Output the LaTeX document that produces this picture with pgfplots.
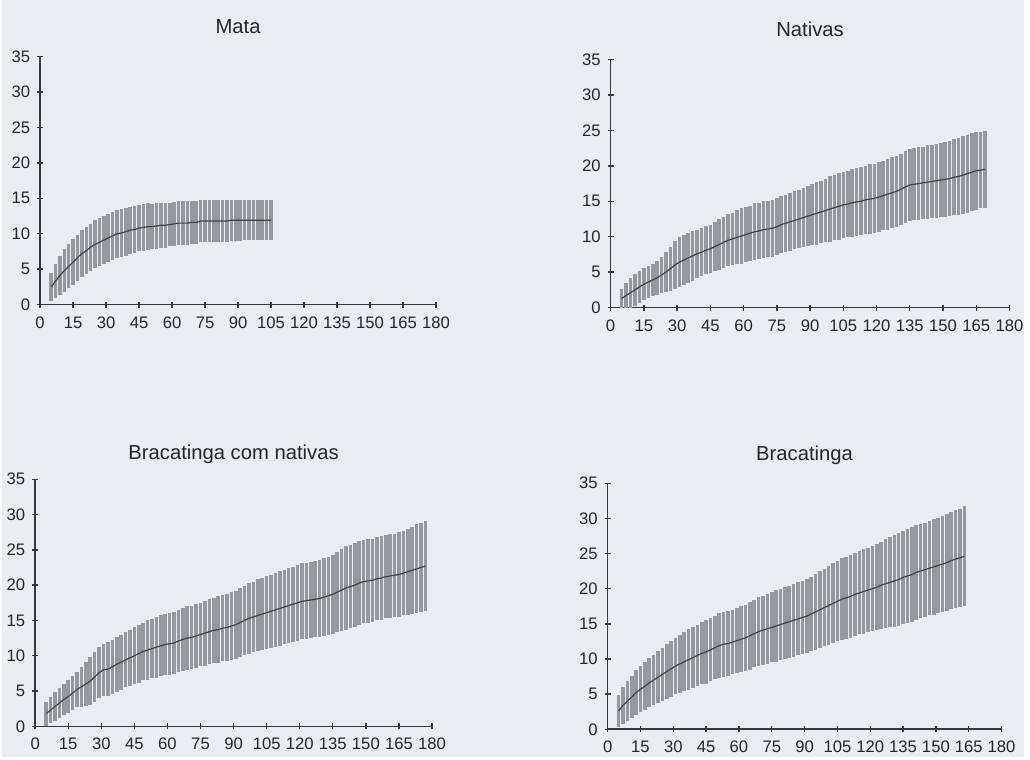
\documentclass[border=0pt]{standalone}
\usepackage{pgfplots}
\pgfplotsset{compat=1.18}
\usepackage{pgfplotstable}
\usepackage{fontspec}
\setmainfont{Liberation Sans}
\definecolor{bg}{RGB}{233,236,241}
\definecolor{bandgray}{RGB}{150,152,158}
\definecolor{meangray}{RGB}{65,65,70}
\definecolor{axgray}{RGB}{55,55,60}

\pgfplotstableread{
x m s
5 2.5 2.0
7 3.3 2.4
9 4.1 2.8
11 4.8 3.0
13 5.4 3.1
15 6.0 3.2
17 6.6 3.2
19 7.2 3.3
21 7.6 3.3
23 8.1 3.3
25 8.5 3.4
27 8.8 3.4
29 9.1 3.4
31 9.4 3.4
33 9.7 3.4
35 10.0 3.4
37 10.1 3.4
39 10.3 3.4
41 10.5 3.3
43 10.6 3.3
45 10.8 3.3
47 10.9 3.3
49 11.0 3.3
51 11.0 3.2
53 11.1 3.2
55 11.2 3.2
57 11.2 3.2
59 11.3 3.1
61 11.4 3.1
63 11.5 3.1
65 11.5 3.1
67 11.5 3.1
69 11.6 3.0
71 11.6 3.0
73 11.8 3.0
75 11.8 3.0
77 11.8 3.0
79 11.8 2.9
81 11.8 2.9
83 11.8 2.9
85 11.8 2.9
87 11.9 2.9
89 11.9 2.9
91 11.9 2.9
93 11.9 2.8
95 11.9 2.8
97 11.9 2.8
99 11.9 2.8
101 11.9 2.8
103 11.9 2.8
105 11.9 2.8
}\mata

\pgfplotstableread{
x m s
5 1.3 1.3
7 1.7 1.7
9 2.1 2.1
11 2.5 2.3
13 2.9 2.3
15 3.3 2.3
17 3.6 2.3
19 3.9 2.3
21 4.2 2.4
23 4.6 2.6
25 5.0 2.8
27 5.5 3.1
29 6.0 3.4
31 6.4 3.5
33 6.7 3.5
35 7.0 3.5
37 7.3 3.5
39 7.6 3.4
41 7.8 3.4
43 8.1 3.4
45 8.3 3.4
47 8.6 3.5
49 8.9 3.6
51 9.2 3.6
53 9.5 3.7
55 9.7 3.7
57 9.9 3.8
59 10.1 3.9
61 10.3 3.9
63 10.5 3.9
65 10.7 4.0
67 10.8 4.0
69 11.0 4.0
71 11.1 4.0
73 11.2 4.0
75 11.4 4.0
77 11.7 4.0
79 11.9 4.0
81 12.1 4.1
83 12.3 4.1
85 12.5 4.1
87 12.7 4.2
89 12.9 4.2
91 13.1 4.3
93 13.3 4.4
95 13.5 4.4
97 13.7 4.5
99 13.9 4.6
101 14.1 4.6
103 14.3 4.7
105 14.5 4.7
107 14.6 4.7
109 14.8 4.8
111 14.9 4.8
113 15.0 4.8
115 15.2 4.8
117 15.3 4.9
119 15.4 4.9
121 15.6 4.9
123 15.8 4.9
125 16.0 5.0
127 16.2 5.0
129 16.4 5.0
131 16.7 5.0
133 17.0 5.1
135 17.3 5.1
137 17.4 5.1
139 17.5 5.1
141 17.6 5.1
143 17.7 5.2
145 17.8 5.2
147 17.9 5.2
149 18.0 5.2
151 18.1 5.3
153 18.2 5.3
155 18.4 5.4
157 18.5 5.4
159 18.7 5.5
161 18.9 5.5
163 19.1 5.5
165 19.3 5.5
167 19.4 5.4
169 19.5 5.4
}\nativas

\pgfplotstableread{
x m s
5 1.8 1.7
7 2.3 1.9
9 2.8 2.0
11 3.3 2.1
13 3.8 2.2
15 4.2 2.3
17 4.7 2.4
19 5.2 2.5
21 5.6 2.8
23 6.0 3.1
25 6.4 3.4
27 7.0 3.5
29 7.6 3.6
31 8.0 3.7
33 8.1 3.8
35 8.4 3.8
37 8.8 3.9
39 9.1 3.9
41 9.4 3.9
43 9.7 4.0
45 10.0 4.0
47 10.3 4.1
49 10.6 4.1
51 10.8 4.2
53 11.0 4.2
55 11.2 4.3
57 11.4 4.3
59 11.6 4.3
61 11.7 4.4
63 11.8 4.4
65 12.1 4.4
67 12.3 4.4
69 12.5 4.5
71 12.6 4.5
73 12.8 4.5
75 13.0 4.5
77 13.2 4.6
79 13.4 4.6
81 13.6 4.6
83 13.7 4.7
85 13.9 4.7
87 14.0 4.7
89 14.2 4.8
91 14.4 4.8
93 14.7 4.9
95 15.0 4.9
97 15.3 5.0
99 15.5 5.0
101 15.7 5.1
103 15.9 5.1
105 16.1 5.2
107 16.3 5.2
109 16.5 5.2
111 16.7 5.3
113 16.9 5.3
115 17.1 5.3
117 17.3 5.3
119 17.5 5.4
121 17.7 5.4
123 17.8 5.4
125 17.9 5.4
127 18.0 5.4
129 18.1 5.4
131 18.3 5.5
133 18.5 5.5
135 18.7 5.6
137 19.0 5.7
139 19.3 5.8
141 19.6 5.9
143 19.8 5.9
145 20.0 5.9
147 20.3 5.9
149 20.5 5.9
151 20.6 5.9
153 20.7 5.9
155 20.9 5.9
157 21.0 5.9
159 21.2 5.9
161 21.3 5.9
163 21.4 5.9
165 21.5 6.0
167 21.7 6.0
169 21.9 6.1
171 22.1 6.2
173 22.3 6.3
175 22.5 6.3
177 22.7 6.4
}\bcn

\pgfplotstableread{
x m s
5 2.6 2.3
7 3.4 2.6
9 4.0 2.8
11 4.6 3.0
13 5.2 3.2
15 5.7 3.3
17 6.1 3.4
19 6.6 3.5
21 7.0 3.6
23 7.4 3.7
25 7.8 3.8
27 8.2 3.9
29 8.6 4.0
31 9.0 4.0
33 9.3 4.1
35 9.6 4.2
37 9.9 4.3
39 10.2 4.3
41 10.5 4.4
43 10.8 4.4
45 11.0 4.5
47 11.3 4.5
49 11.6 4.5
51 11.9 4.6
53 12.1 4.6
55 12.2 4.6
57 12.4 4.6
59 12.6 4.6
61 12.8 4.7
63 13.0 4.7
65 13.3 4.8
67 13.6 4.8
69 13.9 4.9
71 14.1 4.9
73 14.3 5.0
75 14.5 5.0
77 14.7 5.1
79 14.9 5.1
81 15.1 5.1
83 15.3 5.1
85 15.5 5.2
87 15.7 5.2
89 15.9 5.2
91 16.1 5.3
93 16.4 5.3
95 16.7 5.4
97 17.0 5.5
99 17.3 5.5
101 17.6 5.6
103 17.9 5.7
105 18.2 5.7
107 18.5 5.8
109 18.7 5.8
111 18.9 5.9
113 19.2 5.9
115 19.4 5.9
117 19.6 6.0
119 19.8 6.0
121 20.0 6.0
123 20.2 6.1
125 20.5 6.2
127 20.7 6.3
129 20.9 6.4
131 21.1 6.5
133 21.3 6.6
135 21.6 6.6
137 21.8 6.7
139 22.0 6.7
141 22.3 6.7
143 22.5 6.7
145 22.7 6.7
147 22.9 6.7
149 23.1 6.8
151 23.3 6.8
153 23.5 6.8
155 23.7 6.9
157 24.0 6.9
159 24.2 7.0
161 24.4 7.0
163 24.6 7.1
}\brac

\pgfplotsset{
  panel/.style={
    scale only axis,
    xmin=0, xmax=180, ymin=0, ymax=35,
    axis x line=bottom, axis y line=left,
    axis line style={-, axgray, line width=0.8pt},
    xtick={0,15,...,180}, ytick={0,5,...,35},
    tick align=center,
    major tick length=3pt,
    tick style={axgray, line width=0.7pt},
    ticklabel style={font=\fontsize{8.4}{9}\selectfont, text=black!85},
    /pgf/number format/assume math mode=true,
    xticklabel style={yshift=-1pt},
    title style={at={(0.5,1)}, anchor=base, yshift=5.5pt, font=\fontsize{10.2}{12}\selectfont, text=black!85},
  },
  bars/.style={draw=none, mark=none, forget plot,
    error bars/.cd, y dir=both, y explicit, error mark=none,
    error bar style={draw=bandgray, line width=1.8pt, solid}},
  meanline/.style={meangray, line width=0.6pt, mark=none},
}

\begin{document}
\begin{tikzpicture}
\fill[bg] (0,0) rectangle (515pt,-381.5pt);

\begin{axis}[panel, at={(19pt,-153.5pt)}, anchor=south west,
  width=199.5pt, height=125pt, title={Mata}]
  \addplot[bars] table[x=x, y=m, y error=s] {\mata};
  \addplot[meanline] table[x=x, y=m] {\mata};
\end{axis}

\begin{axis}[panel, at={(306.5pt,-155pt)}, anchor=south west,
  width=201pt, height=125pt, title={Nativas}]
  \addplot[bars] table[x=x, y=m, y error=s] {\nativas};
  \addplot[meanline] table[x=x, y=m] {\nativas};
\end{axis}

\begin{axis}[panel, at={(16.5pt,-366pt)}, anchor=south west,
  width=200pt, height=124.5pt, title={Bracatinga com nativas},
  title style={yshift=-1.5pt}]
  \addplot[bars] table[x=x, y=m, y error=s] {\bcn};
  \addplot[meanline] table[x=x, y=m] {\bcn};
\end{axis}

\begin{axis}[panel, at={(305pt,-367.5pt)}, anchor=south west,
  width=198.5pt, height=124pt, title={Bracatinga}]
  \addplot[bars] table[x=x, y=m, y error=s] {\brac};
  \addplot[meanline] table[x=x, y=m] {\brac};
\end{axis}
\end{tikzpicture}
\end{document}
